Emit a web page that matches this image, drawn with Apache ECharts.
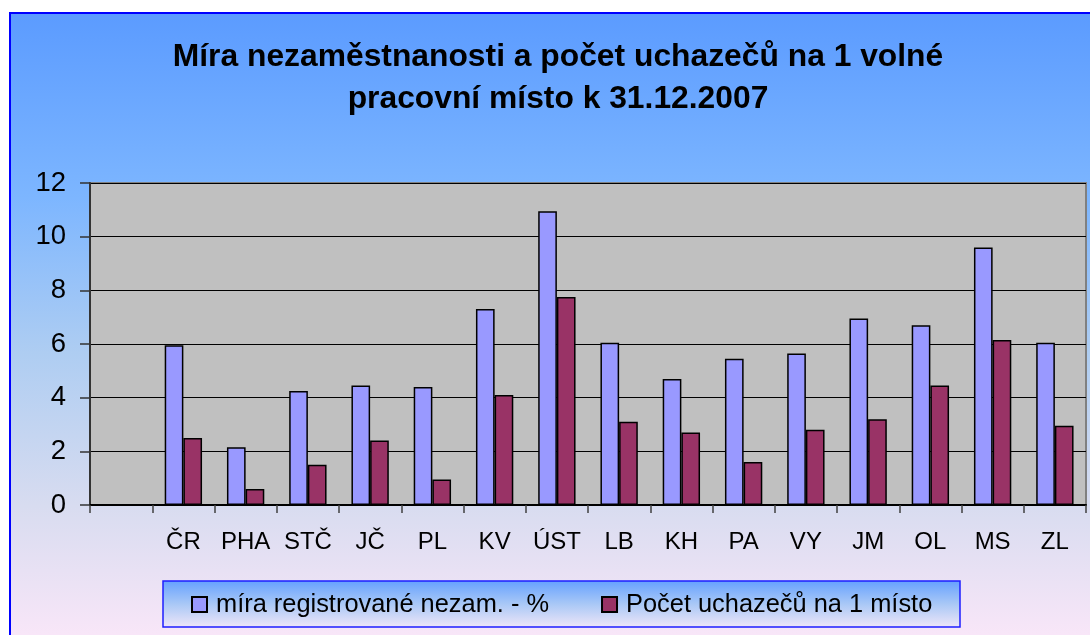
<!DOCTYPE html>
<html>
<head>
<meta charset="utf-8">
<script src="https://cdn.jsdelivr.net/npm/echarts@6/dist/echarts.min.js"></script>
<style>
html,body{margin:0;padding:0;background:#fff;}
#chart{width:1090px;height:635px;}
</style>
</head>
<body>
<div id="chart"></div>
<script>
var categories = ['', 'ČR', 'PHA', 'STČ', 'JČ', 'PL', 'KV', 'ÚST', 'LB', 'KH', 'PA', 'VY', 'JM', 'OL', 'MS', 'ZL'];
var unemploymentRate = [null, 5.95, 2.15, 4.25, 4.45, 4.4, 7.3, 10.95, 6.05, 4.7, 5.45, 5.65, 6.95, 6.7, 9.6, 6.05];
var applicantsPerVacancy = [null, 2.5, 0.6, 1.5, 2.4, 0.95, 4.1, 7.75, 3.1, 2.7, 1.6, 2.8, 3.2, 4.45, 6.15, 2.95];
var seriesNames = ['míra registrované nezam. - %', 'Počet uchazečů na 1 místo'];
var titleLines = ['Míra nezaměstnanosti a počet uchazečů na 1 volné', 'pracovní místo k 31.12.2007'];

var FONT = '"Liberation Sans", Arial, sans-serif';
var chart = echarts.init(document.getElementById('chart'), null, {renderer: 'canvas'});

var option = {
  animation: false,
  textStyle: {fontFamily: FONT},
  title: {
    text: titleLines.join('\n'),
    left: 558,
    textAlign: 'center',
    top: 36,
    padding: 0,
    textStyle: {fontFamily: FONT, fontSize: 31.8, fontWeight: 'bold', color: '#000', lineHeight: 42}
  },
  graphic: [
    {
      type: 'rect', z: -10, silent: true,
      shape: {x: 10, y: 13, width: 1095, height: 640},
      style: {
        fill: new echarts.graphic.LinearGradient(0, 0, 0, 1, [
          {offset: 0, color: '#5B9BFF'},
          {offset: 0.29, color: '#7DB6FF'},
          {offset: 0.53, color: '#AECDF2'},
          {offset: 0.77, color: '#D8DCF0'},
          {offset: 0.97, color: '#F8E6F8'}
        ]),
        stroke: '#0000FF', lineWidth: 2
      }
    },
    {
      type: 'rect', z: -5, silent: true,
      shape: {x: 163, y: 581, width: 797, height: 46},
      style: {
        fill: new echarts.graphic.LinearGradient(0, 0, 0, 1, [
          {offset: 0, color: '#64A0FF'},
          {offset: 0.5, color: '#A9C8F6'},
          {offset: 1, color: '#F0E6F8'}
        ]),
        stroke: '#1E1EFF', lineWidth: 1.5
      }
    }
  ],
  legend: {
    left: 191,
    top: 592,
    itemWidth: 15,
    itemHeight: 15,
    itemGap: 52,
    icon: 'rect',
    padding: 0,
    textStyle: {fontFamily: FONT, fontSize: 25.4, color: '#000', padding: [0, 0, 0, 4]},
    data: seriesNames
  },
  grid: {
    left: 90, right: 4, top: 183, bottom: 130,
    show: true,
    backgroundColor: '#C0C0C0',
    borderColor: '#808080',
    borderWidth: 2
  },
  xAxis: {
    type: 'category',
    data: categories,
    boundaryGap: true,
    axisLine: {show: true, lineStyle: {color: '#000', width: 2}},
    axisTick: {show: true, alignWithLabel: false, length: 8, lineStyle: {color: '#404040', width: 1.5}},
    axisLabel: {color: '#000', fontSize: 24, fontFamily: FONT, margin: 25, interval: 0}
  },
  yAxis: {
    type: 'value',
    min: 0, max: 12, interval: 2,
    axisLine: {show: true, lineStyle: {color: '#333', width: 2}},
    axisTick: {show: true, inside: false, length: 10, lineStyle: {color: '#333', width: 1.5}},
    axisLabel: {color: '#000', fontSize: 27.5, fontFamily: FONT, margin: 24},
    splitLine: {show: true, lineStyle: {color: '#000', width: 1}}
  },
  series: [
    {
      name: seriesNames[0], type: 'bar', data: unemploymentRate,
      barGap: '0%', barCategoryGap: '40%',
      itemStyle: {color: '#9999FF', borderColor: '#000', borderWidth: 1.5}
    },
    {
      name: seriesNames[1], type: 'bar', data: applicantsPerVacancy,
      barGap: '0%', barCategoryGap: '40%',
      itemStyle: {color: '#993366', borderColor: '#000', borderWidth: 1.5}
    }
  ]
};
chart.setOption(option);
</script>
</body>
</html>
